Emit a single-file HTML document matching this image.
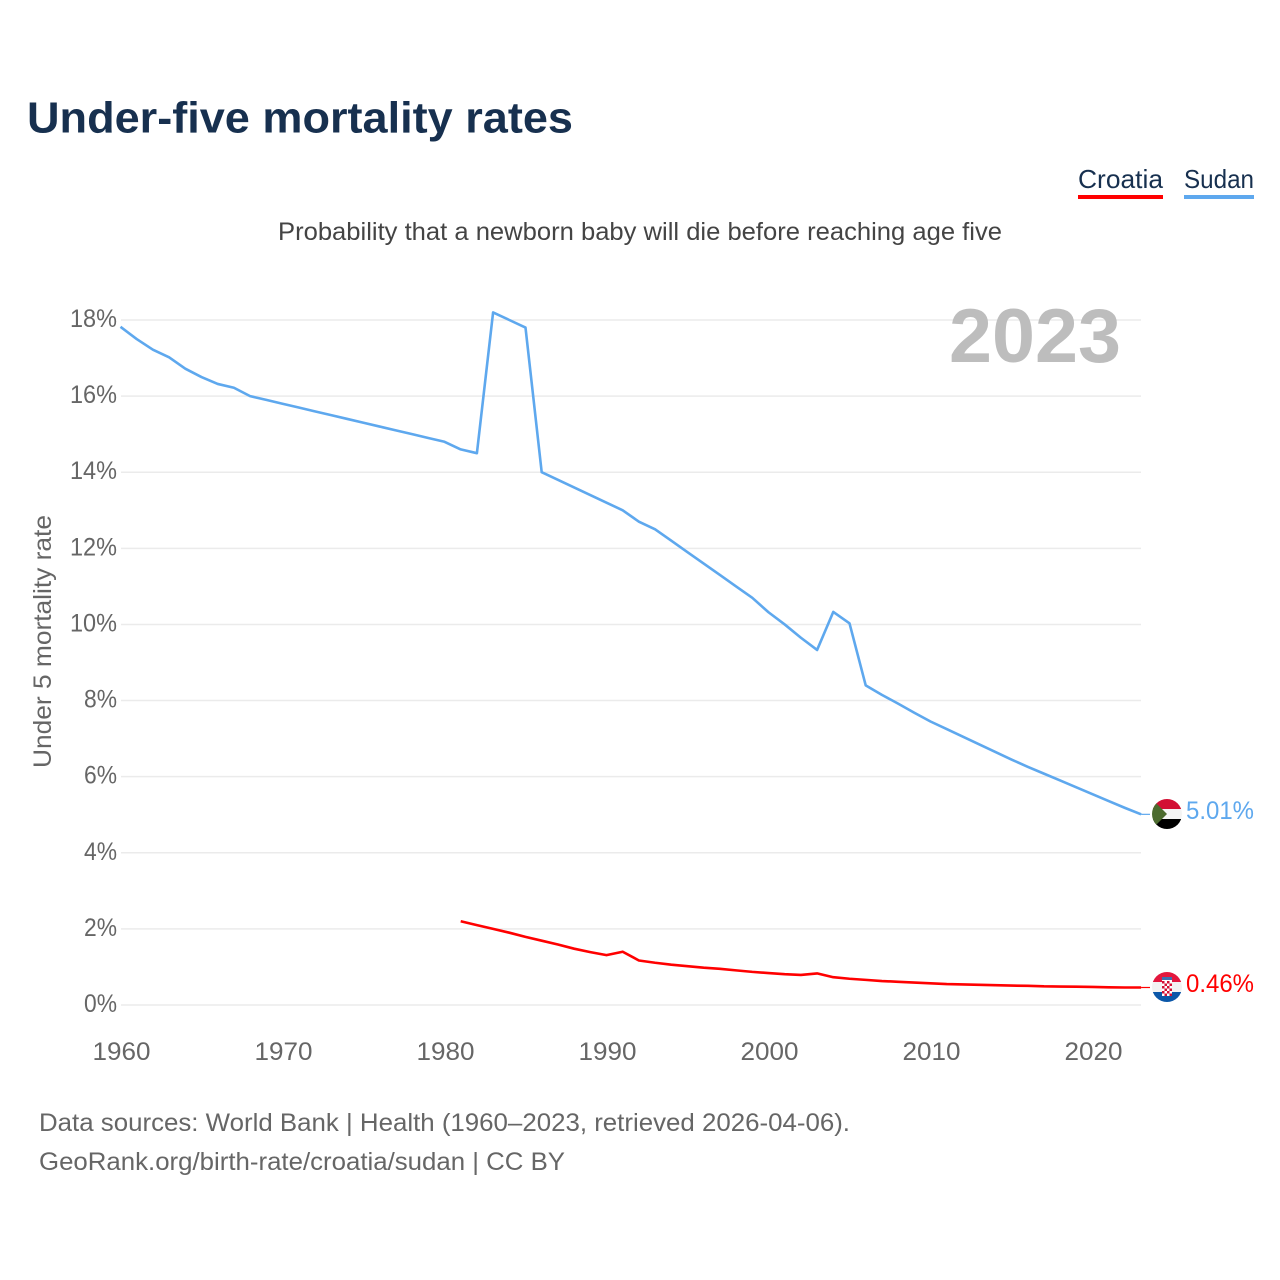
<!DOCTYPE html>
<html lang="en">
<head>
<meta charset="utf-8">
<title>Under-five mortality rates</title>
<style>
html,body{margin:0;padding:0;background:#fff;width:1280px;height:1280px;overflow:hidden}
svg{display:block}
text{font-family:"Liberation Sans",sans-serif}
</style>
</head>
<body>
<svg id="chart" xmlns="http://www.w3.org/2000/svg" width="1280" height="1280" viewBox="0 0 1280 1280">
  <defs>
    <clipPath id="clip-sudan"><circle cx="1167" cy="814" r="15"/></clipPath>
    <clipPath id="clip-croatia"><circle cx="1167" cy="987" r="15"/></clipPath>
  </defs>
  <text x="27" y="132.5" font-size="44" font-weight="700" fill="#17304f" textLength="546" lengthAdjust="spacingAndGlyphs">Under-five mortality rates</text>
  <g>
    <g>
      <text x="1078" y="188" font-size="26" fill="#17304f" textLength="85" lengthAdjust="spacingAndGlyphs">Croatia</text>
      <rect x="1078" y="195" width="85" height="4" fill="#ff0000"/>
    </g>
    <g>
      <text x="1184" y="188" font-size="26" fill="#17304f" textLength="70" lengthAdjust="spacingAndGlyphs">Sudan</text>
      <rect x="1184" y="195" width="70" height="4" fill="#5ea8ee"/>
    </g>
  </g>
  <text x="278" y="240" font-size="25" fill="#444" textLength="724" lengthAdjust="spacingAndGlyphs">Probability that a newborn baby will die before reaching age five</text>
  <g id="grid"></g>
  <g id="yticks"></g>
  <g id="xticks"></g>
  <text x="949" y="362" font-size="76" font-weight="700" fill="#bdbdbd" textLength="172" lengthAdjust="spacingAndGlyphs">2023</text>
  <text transform="translate(51,768) rotate(-90)" x="0" y="0" font-size="25" fill="#666" textLength="253" lengthAdjust="spacingAndGlyphs">Under 5 mortality rate</text>
  <g id="series"></g>
  <g clip-path="url(#clip-sudan)">
    <rect x="1152" y="799" width="30" height="10" fill="#d21034"/>
    <rect x="1152" y="809" width="30" height="10" fill="#f4f4f4"/>
    <rect x="1152" y="819" width="30" height="10" fill="#000"/>
    <polygon points="1152,799 1167,814 1152,829" fill="#4c6b2e"/>
  </g>
  <g clip-path="url(#clip-croatia)">
    <rect x="1152" y="972" width="30" height="10" fill="#e3173e"/>
    <rect x="1152" y="982" width="30" height="10" fill="#f2f2f2"/>
    <rect x="1152" y="992" width="30" height="10" fill="#0b57a8"/>
    <rect x="1162" y="980" width="10" height="16" fill="#fff"/>
    <g fill="#d21034">
      <rect x="1162" y="981" width="2.5" height="2.5"/><rect x="1167" y="981" width="2.5" height="2.5"/>
      <rect x="1164.5" y="983.5" width="2.5" height="2.5"/><rect x="1169.5" y="983.5" width="2.5" height="2.5"/>
      <rect x="1162" y="986" width="2.5" height="2.5"/><rect x="1167" y="986" width="2.5" height="2.5"/>
      <rect x="1164.5" y="988.5" width="2.5" height="2.5"/><rect x="1169.5" y="988.5" width="2.5" height="2.5"/>
      <rect x="1162" y="991" width="2.5" height="2.5"/><rect x="1167" y="991" width="2.5" height="2.5"/>
      <rect x="1164.5" y="993.5" width="2.5" height="2.5"/><rect x="1169.5" y="993.5" width="2.5" height="2.5"/>
    </g>
    <rect x="1162" y="977" width="10" height="3" fill="#3d6fb0"/>
  </g>
  <text id="label-sudan" x="1186" y="819" font-size="25" fill="#5ea8ee" textLength="68" lengthAdjust="spacingAndGlyphs">5.01%</text>
  <text id="label-croatia" x="1186" y="992" font-size="25" fill="#ff0000" textLength="68" lengthAdjust="spacingAndGlyphs">0.46%</text>
  <g>
    <text x="39" y="1131" font-size="25" fill="#666" textLength="811" lengthAdjust="spacingAndGlyphs">Data sources: World Bank | Health (1960–2023, retrieved 2026-04-06).</text>
    <text x="39" y="1170" font-size="25" fill="#666" textLength="526" lengthAdjust="spacingAndGlyphs">GeoRank.org/birth-rate/croatia/sudan | CC BY</text>
  </g>
</svg>
<script>
const sudanYears = [1960,1961,1962,1963,1964,1965,1966,1967,1968,1969,1970,1971,1972,1973,1974,1975,1976,1977,1978,1979,1980,1981,1982,1983,1984,1985,1986,1987,1988,1989,1990,1991,1992,1993,1994,1995,1996,1997,1998,1999,2000,2001,2002,2003,2004,2005,2006,2007,2008,2009,2010,2011,2012,2013,2014,2015,2016,2017,2018,2019,2020,2021,2022,2023];
const sudanValues = [17.82,17.5,17.22,17.02,16.72,16.5,16.32,16.22,16.0,15.9,15.8,15.7,15.6,15.5,15.4,15.3,15.2,15.1,15.0,14.9,14.8,14.6,14.5,18.2,18.0,17.8,14.0,13.8,13.6,13.4,13.2,13.0,12.7,12.5,12.2,11.9,11.6,11.3,11.0,10.7,10.32,10.0,9.65,9.33,10.33,10.03,8.4,8.15,7.92,7.68,7.45,7.25,7.05,6.85,6.65,6.45,6.26,6.08,5.9,5.72,5.54,5.36,5.18,5.01];
const croatiaYears = [1981,1982,1983,1984,1985,1986,1987,1988,1989,1990,1991,1992,1993,1994,1995,1996,1997,1998,1999,2000,2001,2002,2003,2004,2005,2006,2007,2008,2009,2010,2011,2012,2013,2014,2015,2016,2017,2018,2019,2020,2021,2022,2023];
const croatiaValues = [2.2,2.1,2.0,1.9,1.79,1.69,1.59,1.48,1.39,1.31,1.4,1.17,1.11,1.06,1.02,0.98,0.95,0.91,0.87,0.84,0.81,0.79,0.83,0.73,0.69,0.66,0.63,0.61,0.59,0.57,0.55,0.54,0.53,0.52,0.51,0.505,0.49,0.485,0.48,0.475,0.465,0.46,0.46];
const yTickValues = [0,2,4,6,8,10,12,14,16,18];
const xTickValues = [1960,1970,1980,1990,2000,2010,2020];

const SVG_NS = 'http://www.w3.org/2000/svg';
function xScale(year) { return 120.5 + (year - 1960) * 16.2; }
function yScale(v) { return 1005 - v * (1005 - 320) / 18; }
function make(tag, attrs, parent) {
  const el = document.createElementNS(SVG_NS, tag);
  for (const k in attrs) el.setAttribute(k, attrs[k]);
  parent.appendChild(el);
  return el;
}

const grid = document.getElementById('grid');
const yticks = document.getElementById('yticks');
yTickValues.forEach(function (v) {
  const line = make('line', { x1: 121, x2: 1141, y1: yScale(v), y2: yScale(v), stroke: '#ebebeb', 'stroke-width': 1.5 }, grid);
  
  
  const label = v + '%';
  const t = make('text', { x: 117, y: yScale(v) + 7, 'text-anchor': 'end', 'font-size': 25, fill: '#666', textLength: label.length === 3 ? 47 : 33, lengthAdjust: 'spacingAndGlyphs' }, yticks);
  t.textContent = label;
  
  
});

const xticks = document.getElementById('xticks');
xTickValues.forEach(function (year) {
  const t = make('text', { x: xScale(year) + 1, y: 1060, 'text-anchor': 'middle', 'font-size': 25, fill: '#666', textLength: 58, lengthAdjust: 'spacingAndGlyphs' }, xticks);
  t.textContent = String(year);
  
  
});

function linePath(years, values) {
  return years.map(function (y, i) {
    return (i ? 'L' : 'M') + xScale(y).toFixed(2) + ' ' + yScale(values[i]).toFixed(2);
  }).join(' ');
}

const series = document.getElementById('series');

const sudanLine = make('path', { d: linePath(sudanYears, sudanValues), fill: 'none', stroke: '#5ea8ee', 'stroke-width': 2.6, 'stroke-linejoin': 'round' }, series);



const croatiaLine = make('path', { d: linePath(croatiaYears, croatiaValues), fill: 'none', stroke: '#ff0000', 'stroke-width': 2.6, 'stroke-linejoin': 'round' }, series);



const sudanLast = sudanValues[sudanValues.length - 1];
const sudanConnector = make('line', { x1: xScale(2023), x2: 1150, y1: yScale(sudanLast), y2: yScale(sudanLast), stroke: '#5ea8ee', 'stroke-width': 1.2 }, series);



const croatiaLast = croatiaValues[croatiaValues.length - 1];
const croatiaConnector = make('line', { x1: xScale(2023), x2: 1150, y1: yScale(croatiaLast), y2: yScale(croatiaLast), stroke: '#ff0000', 'stroke-width': 1.2 }, series);


</script>
</body>
</html>
